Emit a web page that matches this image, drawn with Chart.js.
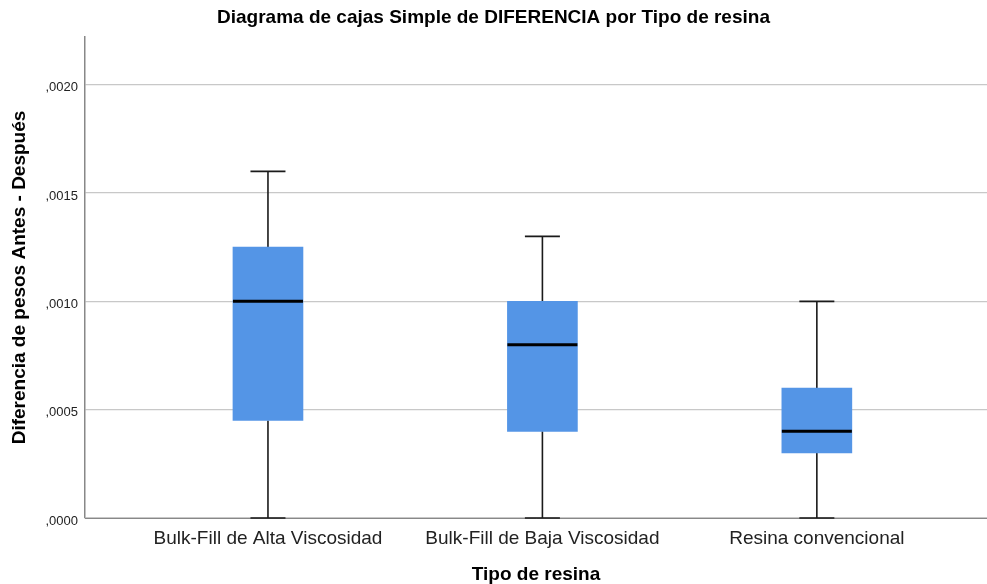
<!DOCTYPE html>
<html>
<head>
<meta charset="utf-8">
<script src="https://cdn.jsdelivr.net/npm/chart.js@4/dist/chart.umd.min.js"></script>
<style>
  html,body{margin:0;padding:0;background:#fff;}
  #wrap{width:987px;height:584px;position:relative;}
</style>
</head>
<body>
<div id="wrap"><canvas id="c" width="987" height="584"></canvas></div>
<script>
const categories = ["Bulk-Fill de Alta Viscosidad", "Bulk-Fill de Baja Viscosidad", "Resina convencional"];
const whiskerMin = [0.0000, 0.0000, 0.0000];
const q1 = [0.00045, 0.0004, 0.0003];
const median = [0.0010, 0.0008, 0.0004];
const q3 = [0.00125, 0.0010, 0.0006];
const whiskerMax = [0.0016, 0.0013, 0.0010];
const yTicks = [0, 0.0005, 0.0010, 0.0015, 0.0020];

const boxData = categories.map((c, i) => ({ x: i + 1, y: [q1[i], q3[i]] }));

const boxPlugin = {
  id: 'boxplot',
  beforeDatasetsDraw(chart) {
    const ctx = chart.ctx, xs = chart.scales.x, ys = chart.scales.y;
    ctx.save();
    ctx.strokeStyle = '#1a1a1a';
    ctx.lineWidth = 1.6;
    categories.forEach((c, i) => {
      const cx = xs.getPixelForValue(i + 1);
      const half = 17.5;
      const yMin = ys.getPixelForValue(whiskerMin[i]);
      const yMax = ys.getPixelForValue(whiskerMax[i]);
      const yQ1 = ys.getPixelForValue(q1[i]);
      const yQ3 = ys.getPixelForValue(q3[i]);
      ctx.beginPath();
      ctx.moveTo(cx, yQ3); ctx.lineTo(cx, yMax);
      ctx.moveTo(cx, yQ1); ctx.lineTo(cx, yMin);
      ctx.moveTo(cx - half, yMax); ctx.lineTo(cx + half, yMax);
      ctx.moveTo(cx - half, yMin); ctx.lineTo(cx + half, yMin);
      ctx.stroke();
    });
    ctx.restore();
  },
  afterDatasetsDraw(chart) {
    const ctx = chart.ctx, xs = chart.scales.x, ys = chart.scales.y;
    ctx.save();
    ctx.strokeStyle = '#000';
    ctx.lineWidth = 3;
    categories.forEach((c, i) => {
      const cx = xs.getPixelForValue(i + 1);
      const half = 35;
      const ym = ys.getPixelForValue(median[i]);
      ctx.beginPath();
      ctx.moveTo(cx - half, ym); ctx.lineTo(cx + half, ym);
      ctx.stroke();
    });
    ctx.restore();
  }
};

new Chart(document.getElementById('c'), {
  type: 'bar',
  data: {
    datasets: [{
      data: boxData,
      backgroundColor: '#5495e6',
      borderWidth: 0,
      barThickness: 70
    }]
  },
  options: {
    responsive: false,
    animation: false,
    layout: { padding: { left: 0, right: 0, top: 0, bottom: 0 } },
    plugins: {
      legend: { display: false },
      tooltip: { enabled: false },
      title: {
        display: true,
        text: 'Diagrama de cajas Simple de DIFERENCIA por Tipo de resina',
        color: '#000',
        font: { family: 'Liberation Sans, Arial', size: 19, weight: 'bold' },
        padding: { top: 6.6, bottom: 7.6 }
      }
    },
    scales: {
      x: {
        type: 'linear',
        offset: false,
        bounds: 'data',
        min: 0.3333,
        max: 3.62,
        grid: { display: false, drawTicks: false, offset: false },
        border: { display: true, color: '#888', width: 1 },
        afterBuildTicks(scale) { scale.ticks = categories.map((c, i) => ({ value: i + 1 })); },
        afterFit(scale) { scale.height = 66; },
        ticks: {
          autoSkip: false,
          maxRotation: 0,
          padding: 9.5,
          color: '#222',
          font: { family: 'Liberation Sans, Arial', size: 19 },
          callback: (v) => categories[v - 1] || ''
        },
        title: {
          display: true,
          text: 'Tipo de resina',
          color: '#000',
          font: { family: 'Liberation Sans, Arial', size: 19, weight: 'bold' },
          padding: { top: 0, bottom: -2 }
        }
      },
      y: {
        type: 'linear',
        min: 0,
        max: 0.00222,
        grid: { color: '#c8c8c8', lineWidth: 1.3, drawTicks: false },
        border: { display: true, color: '#888', width: 1.5 },
        afterBuildTicks(scale) { scale.ticks = yTicks.map(v => ({ value: v })); },
        afterFit(scale) { scale.width = 85; },
        ticks: {
          padding: 7,
          color: '#222',
          font: { family: 'Liberation Sans, Arial', size: 13, lineHeight: 0.46 },
          callback: (v) => ['', ',' + v.toFixed(4).split('.')[1]]
        },
        title: {
          display: true,
          text: 'Diferencia de pesos Antes - Después',
          color: '#000',
          font: { family: 'Liberation Sans, Arial', size: 19, weight: 'bold' },
          padding: { top: 8.6, bottom: 0 }
        }
      }
    }
  },
  plugins: [boxPlugin]
});
</script>
</body>
</html>
